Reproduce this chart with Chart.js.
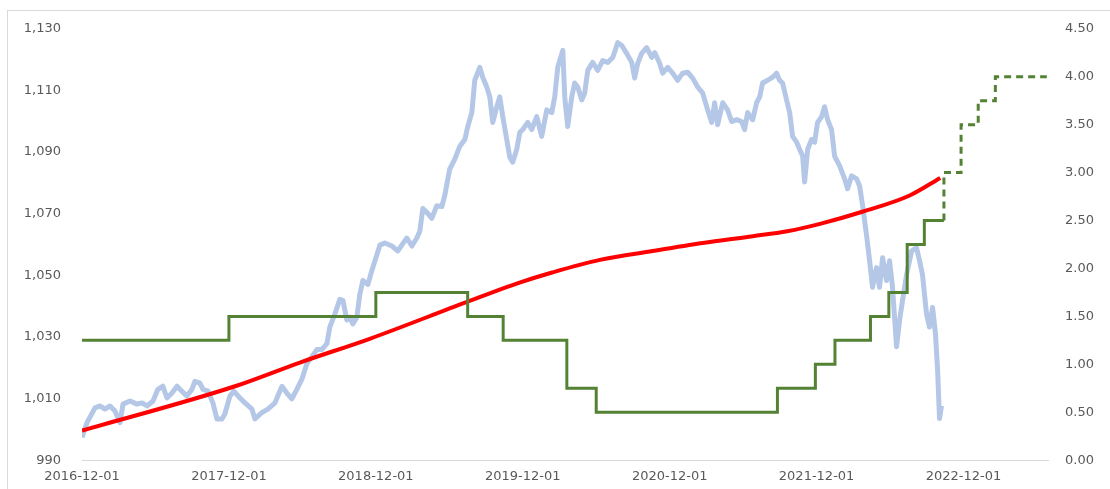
<!DOCTYPE html>
<html>
<head>
<meta charset="utf-8">
<script src="https://cdn.jsdelivr.net/npm/chart.js@4"></script>
<style>
  html, body { margin: 0; padding: 0; background: #fff; }
  #wrap { position: relative; width: 1110px; height: 489px; }
</style>
</head>
<body>
<div id="wrap"><canvas id="chart"></canvas></div>
<script>
// x values are months since 2016-12-01
const tickMonths = [0, 12, 24, 36, 48, 60, 72];
const tickLabels = ['2016-12-01', '2017-12-01', '2018-12-01', '2019-12-01', '2020-12-01', '2021-12-01', '2022-12-01'];

// exchange rate (left axis)
const fxMonths = [
  0, 0.41, 1.06, 1.47, 1.88, 2.29, 2.69, 3.10, 3.35, 3.92,
  4.49, 4.90, 5.31, 5.80, 6.20, 6.61, 6.94, 7.35, 7.76, 8.16,
  8.57, 8.98, 9.22, 9.63, 9.88, 10.29, 10.69, 11.02, 11.43, 11.67,
  12.08, 12.40, 12.90, 13.31, 13.88, 14.12, 14.69, 15.18, 15.76, 16.33,
  16.73, 17.14, 17.55, 17.96, 18.37, 18.78, 19.18, 19.59, 20.00, 20.24,
  20.65, 21.06, 21.31, 21.63, 21.88, 22.12, 22.45, 22.69, 22.94, 23.35,
  23.67, 24.08, 24.33, 24.73, 25.31, 25.80, 26.12, 26.53, 26.94, 27.35,
  27.59, 27.84, 28.24, 28.57, 28.98, 29.39, 29.63, 29.88, 30.04, 30.45,
  30.86, 31.27, 31.51, 31.84, 32.08, 32.49, 32.73, 33.06, 33.31, 33.55,
  33.88, 34.12, 34.37, 34.69, 34.94, 35.18, 35.51, 35.76, 36.00, 36.41,
  36.73, 37.14, 37.55, 37.96, 38.37, 38.61, 38.86, 39.27, 39.43, 39.67,
  40.00, 40.24, 40.49, 40.82, 41.06, 41.31, 41.71, 42.12, 42.53, 42.94,
  43.35, 43.76, 44.08, 44.49, 44.90, 45.14, 45.39, 45.71, 46.12, 46.53,
  46.78, 47.18, 47.43, 47.84, 48.24, 48.65, 49.06, 49.47, 49.88, 50.29,
  50.69, 51.10, 51.43, 51.67, 51.92, 52.33, 52.73, 53.06, 53.47, 53.88,
  54.12, 54.37, 54.78, 55.10, 55.35, 55.59, 56.00, 56.41, 56.73, 56.98,
  57.22, 57.55, 57.80, 58.04, 58.37, 58.61, 58.86, 59.02, 59.27, 59.59,
  59.84, 60.08, 60.41, 60.65, 60.90, 61.22, 61.47, 61.88, 62.29, 62.53,
  62.86, 63.27, 63.51, 63.76, 64.08, 64.33, 64.57, 64.90, 65.14, 65.39,
  65.71, 65.96, 66.20, 66.53, 66.78, 67.02, 67.35, 67.76, 68.16, 68.41,
  68.65, 68.98, 69.22, 69.47, 69.71, 69.88, 70.04, 70.20
];
const fxValues = [
  997.4, 1002.2, 1007.0, 1007.6, 1006.6, 1007.6, 1006.0, 1002.2, 1008.2, 1009.2,
  1008.2, 1008.6, 1007.6, 1009.2, 1013.0, 1014.0, 1010.2, 1011.8, 1014.0, 1012.4,
  1010.8, 1013.0, 1015.6, 1015.0, 1013.0, 1012.4, 1008.6, 1003.4, 1003.4, 1005.0,
  1010.8, 1012.4, 1010.2, 1008.6, 1006.6, 1003.4, 1005.4, 1006.6, 1008.6, 1014.0,
  1011.8, 1009.9, 1013.0, 1016.3, 1021.4, 1023.6, 1025.9, 1025.9, 1027.8, 1033.2,
  1037.4, 1042.2, 1041.9, 1035.5, 1036.4, 1034.2, 1036.4, 1043.8, 1048.3, 1047.0,
  1051.5, 1056.6, 1059.8, 1060.5, 1059.5, 1057.9, 1059.8, 1062.1, 1059.5, 1062.1,
  1064.3, 1071.7, 1070.1, 1068.5, 1072.6, 1072.3, 1075.9, 1081.3, 1084.5, 1087.7,
  1091.9, 1094.1, 1098.3, 1102.8, 1113.3, 1117.5, 1114.3, 1111.1, 1107.9, 1099.6,
  1104.7, 1107.9, 1101.5, 1094.1, 1088.3, 1086.7, 1090.9, 1096.4, 1097.3, 1099.6,
  1097.3, 1101.5, 1095.1, 1103.7, 1102.8, 1107.9, 1117.5, 1123.0, 1107.9, 1098.3,
  1107.9, 1112.4, 1111.1, 1106.9, 1109.2, 1116.5, 1119.1, 1116.5, 1119.7, 1119.1,
  1120.7, 1125.5, 1124.6, 1122.0, 1119.1, 1114.0, 1118.8, 1122.0, 1123.9, 1120.7,
  1122.3, 1118.8, 1115.6, 1117.5, 1115.6, 1113.3, 1115.6, 1115.9, 1114.0, 1111.1,
  1109.2, 1103.7, 1099.6, 1106.0, 1098.9, 1106.0, 1103.7, 1099.9, 1100.5, 1099.9,
  1097.3, 1102.8, 1100.5, 1106.0, 1107.9, 1112.4, 1113.3, 1114.3, 1115.6, 1113.3,
  1112.4, 1106.9, 1102.8, 1095.1, 1093.2, 1090.9, 1088.7, 1080.3, 1090.9, 1094.1,
  1093.2, 1099.6, 1101.5, 1104.7, 1100.5, 1097.3, 1088.7, 1085.5, 1081.3, 1078.1,
  1082.3, 1081.3, 1079.0, 1072.6, 1063.0, 1054.7, 1046.1, 1052.5, 1046.1, 1055.7,
  1048.3, 1054.7, 1046.1, 1026.8, 1035.5, 1041.9, 1050.2, 1057.9, 1058.9, 1054.7,
  1050.2, 1037.4, 1033.2, 1039.6, 1031.0, 1019.5, 1003.5, 1007.6
];

// smooth trend (left axis)
const trendMonths = [0, 12.5, 17.8, 23.5, 31.4, 35.8, 38.4, 42.3, 46.6, 50.7, 54.8, 57.6, 60.2, 63.8, 67.6, 70.1];
const trendValues = [999.6, 1014.0, 1021.7, 1029.4, 1041.3, 1047.7, 1050.9, 1055.0, 1057.9, 1060.5, 1062.7, 1064.3, 1066.6, 1070.7, 1075.9, 1081.6];

// policy rate (right axis), value holds from each month onward
const rateMonths = [0, 12.0, 24.0, 31.5, 34.4, 39.6, 42.0, 56.8, 59.9, 61.5, 64.4, 65.9, 67.4, 68.8, 70.4];
const rateValues = [1.25, 1.50, 1.75, 1.50, 1.25, 0.75, 0.50, 0.75, 1.00, 1.25, 1.50, 1.75, 2.25, 2.50, 2.50];

// projected rate path (dashed)
const projMonths = [70.4, 71.8, 73.2, 74.6, 78.8];
const projValues = [2.50, 3.00, 3.50, 3.75, 4.00];

const pts = (xs, ys) => xs.map((x, i) => ({ x, y: ys[i] }));

const labelFont = { family: "'DejaVu Sans', sans-serif", size: 13 };
const labelColor = '#595959';
const green = '#548235';

const frame = {
  id: 'frame',
  beforeDraw(chart) {
    const ctx = chart.ctx;
    ctx.save();
    ctx.strokeStyle = '#d9d9d9';
    ctx.lineWidth = 1;
    ctx.strokeRect(7.5, 10.5, chart.width, chart.height);
    ctx.restore();
  }
};

new Chart(document.getElementById('chart'), {
  type: 'line',
  data: {
    datasets: [
      {
        data: pts(rateMonths, rateValues),
        yAxisID: 'yR',
        borderColor: green,
        borderWidth: 3,
        stepped: 'before',
        pointRadius: 0
      },
      {
        data: pts(projMonths, projValues),
        yAxisID: 'yR',
        borderColor: green,
        borderWidth: 3,
        borderDash: [7, 5],
        stepped: 'after',
        pointRadius: 0
      },
      {
        data: pts(trendMonths, trendValues),
        yAxisID: 'y',
        borderColor: '#ff0000',
        borderWidth: 4,
        cubicInterpolationMode: 'monotone',
        pointRadius: 0
      },
      {
        data: pts(fxMonths, fxValues),
        yAxisID: 'y',
        borderColor: '#b4c7e7',
        borderWidth: 5,
        borderJoinStyle: 'round',
        tension: 0,
        pointRadius: 0
      }
    ]
  },
  options: {
    responsive: true,
    maintainAspectRatio: false,
    animation: false,
    layout: { padding: { top: 28, left: 0, right: 0, bottom: 0 } },
    plugins: {
      legend: { display: false },
      tooltip: { enabled: false }
    },
    scales: {
      x: {
        type: 'linear',
        min: 0,
        max: 78.9,
        afterBuildTicks: scale => { scale.ticks = tickMonths.map(v => ({ value: v })); },
        afterFit: scale => { scale.height = 24; },
        grid: { display: false, drawTicks: false },
        border: { display: true, color: '#d9d9d9', width: 1 },
        ticks: {
          autoSkip: false,
          maxRotation: 0,
          padding: 9,
          color: labelColor,
          font: labelFont,
          callback: v => tickLabels[tickMonths.indexOf(v)]
        }
      },
      y: {
        position: 'left',
        min: 990,
        max: 1130,
        afterFit: scale => { scale.width = 82; },
        grid: { display: false, drawTicks: false },
        border: { display: false },
        ticks: {
          stepSize: 20,
          padding: 21,
          color: labelColor,
          font: labelFont,
          callback: v => v.toLocaleString('en-US')
        }
      },
      yR: {
        position: 'right',
        min: 0,
        max: 4.5,
        afterFit: scale => { scale.width = 62; },
        grid: { display: false, drawTicks: false },
        border: { display: false },
        ticks: {
          stepSize: 0.5,
          padding: 17,
          color: labelColor,
          font: labelFont,
          callback: v => v.toFixed(2)
        }
      }
    }
  },
  plugins: [frame]
});
</script>
</body>
</html>
